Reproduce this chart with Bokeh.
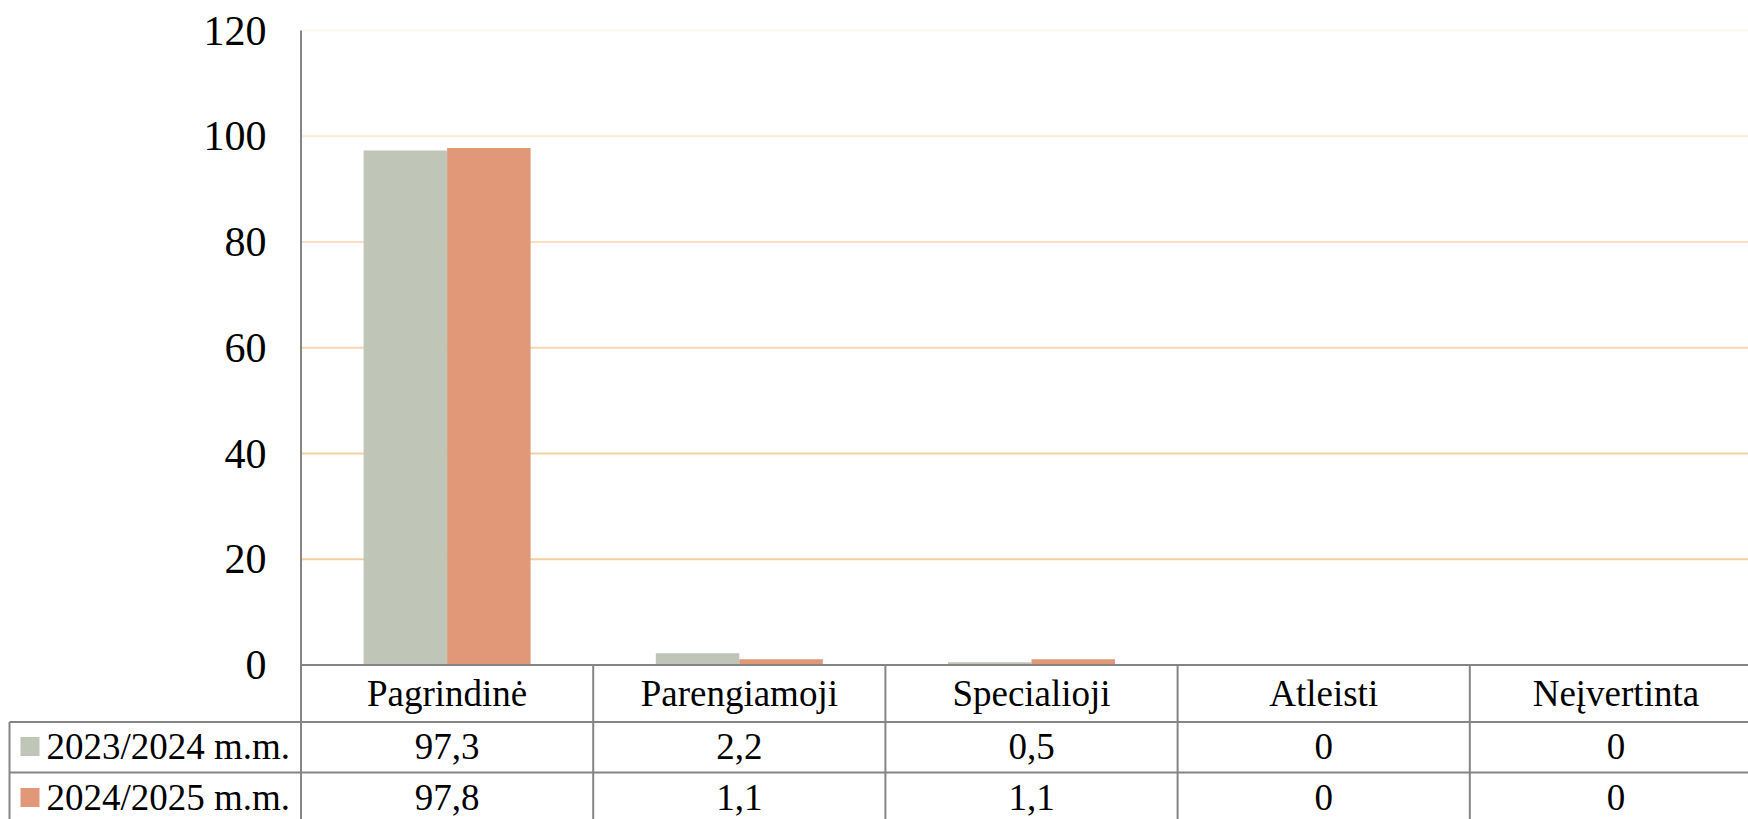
from bokeh.plotting import figure
from bokeh.models import Range1d
from bokeh.core.properties import value
from bokeh.embed import file_html
from bokeh.resources import INLINE

# ---------------- data ----------------
categories = ["Pagrindinė", "Parengiamoji", "Specialioji", "Atleisti", "Neįvertinta"]
series_names = ["2023/2024 m.m.", "2024/2025 m.m."]
values_2023 = [97.3, 2.2, 0.5, 0, 0]
values_2024 = [97.8, 1.1, 1.1, 0, 0]
y_ticks = [0, 20, 40, 60, 80, 100, 120]

# ---------------- style ----------------
series_colors = ["#BFC6B8", "#E09878"]
grid_colors = ["#F6CE9E", "#F7D1A4", "#F8D6AE", "#FADFC2", "#FCEADA", "#FEF6EE"]  # 20..120
table_line = "#858585"
FONT = "Liberation Serif"

# ---------------- layout (picture pixels) ----------------
W, H = 1748, 819
OFF = 0
AXIS_X = 300.5
CAT_W = 292.2
Y0, YTOP = 664.5, 30.0
HEAD_Y = 693
ROW_Y = [746, 797]
ROW_LINES = [721.5, 772]
LEG_LEFT = 9
BAR_W = 1 / 3.5

x_start = (OFF - AXIS_X) / CAT_W - 0.5
x_end = (OFF + W - AXIS_X) / CAT_W - 0.5
ppu = (Y0 - YTOP) / max(y_ticks)
y_start = -(OFF + H - Y0) / ppu
y_end = (Y0 - OFF) / ppu

p = figure(width=W, height=H, x_range=Range1d(x_start, x_end), y_range=Range1d(y_start, y_end),
           output_backend="svg", toolbar_location=None, x_axis_location=None, y_axis_location=None,
           min_border=0, outline_line_color=None, background_fill_color="white",
           border_fill_color="white")
for g in p.grid:
    g.visible = False
p.extra_x_ranges = {"px": Range1d(OFF, OFF + W)}
p.extra_y_ranges = {"px": Range1d(OFF + H, OFF)}

# gridlines
gt = [t for t in y_ticks if t > 0]
p.segment(x0=[-0.5] * len(gt), x1=[x_end] * len(gt), y0=gt, y1=gt,
          line_color=grid_colors[:len(gt)], line_width=2.2)

# bars
xs = list(range(len(categories)))
for k, (vals, col) in enumerate(zip([values_2023, values_2024], series_colors)):
    off = (k - 0.5) * BAR_W
    p.vbar(x=[x + off for x in xs], top=vals, bottom=0, width=BAR_W,
           fill_color=col, line_color=None)

# y tick labels
p.text(x=[266] * len(y_ticks), y=y_ticks, text=[str(t) for t in y_ticks], x_range_name="px",
       text_align="right", text_baseline="middle", text_font=value(FONT),
       text_font_size="42px", text_color="black")

# axis line / table borders
p.segment(x0=[AXIS_X], x1=[AXIS_X], y0=[YTOP], y1=[OFF + H], x_range_name="px",
          y_range_name="px", line_color=table_line, line_width=2)
p.segment(x0=[AXIS_X, LEG_LEFT, LEG_LEFT], x1=[OFF + W] * 3, y0=[Y0] + ROW_LINES,
          y1=[Y0] + ROW_LINES, x_range_name="px", y_range_name="px",
          line_color=table_line, line_width=2)
p.segment(x0=[LEG_LEFT], x1=[LEG_LEFT], y0=[ROW_LINES[0]], y1=[OFF + H], x_range_name="px",
          y_range_name="px", line_color=table_line, line_width=2)
vx = [i + 0.5 for i in xs[:-1]]
p.segment(x0=vx, x1=vx, y0=[Y0] * len(vx), y1=[OFF + H] * len(vx), y_range_name="px",
          line_color=table_line, line_width=2)

# header
p.text(x=xs, y=[HEAD_Y] * len(xs), text=categories, y_range_name="px",
       text_align="center", text_baseline="middle", text_font=value(FONT),
       text_font_size="37px", text_color="black")

def fmt(v):
    return f"{v:g}".replace(".", ",")

for k, vals in enumerate([values_2023, values_2024]):
    p.text(x=xs, y=[ROW_Y[k]] * len(xs), text=[fmt(v) for v in vals], y_range_name="px",
           text_align="center", text_baseline="middle", text_font=value(FONT),
           text_font_size="37px", text_color="black")
    p.rect(x=[29.5], y=[ROW_Y[k]], width=19, height=19, x_range_name="px", y_range_name="px",
           fill_color=series_colors[k], line_color=None)
    p.text(x=[46], y=[ROW_Y[k]], text=[series_names[k]], x_range_name="px", y_range_name="px",
           text_align="left", text_baseline="middle", text_font=value(FONT),
           text_font_size="37px", text_color="black")

open("out.html", "w").write(file_html(p, INLINE))
